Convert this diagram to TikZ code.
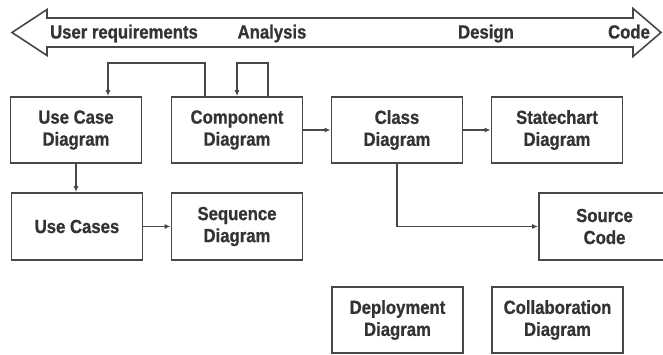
\documentclass[tikz,border=0pt]{standalone}
\usepackage{fontspec}
\setmainfont{Liberation Sans}[FakeStretch=0.88, BoldFeatures={FakeBold=0.8}]
\usetikzlibrary{arrows.meta}
\definecolor{ink}{HTML}{333333}
\definecolor{edge}{HTML}{474747}
\begin{document}
\begin{tikzpicture}[x=1pt,y=-1pt,
  every node/.style={font=\fontsize{19}{22}\selectfont\bfseries, text=ink},
  box/.style={draw=edge, line width=1.8pt, minimum width=131pt, minimum height=66pt, align=center, inner sep=0pt},
  arr/.style={draw=edge, line width=1.3pt, -{Latex[length=6pt,width=5pt]}},
  lbl/.style={inner sep=0pt, anchor=base}]
\useasboundingbox (0,0) rectangle (663,355);
% timeline double arrow
\draw[edge, line width=1.6pt, line join=miter, fill=white]
  (12,32.5) -- (47,9.5) -- (47,18) -- (633,18) -- (633,8.5) -- (661,32.5)
  -- (633,56.5) -- (633,47) -- (47,47) -- (47,55.5) -- cycle;
\node[lbl] (t1) at (124,38.5) {User requirements};
\node[lbl] (t2) at (272,38.5) {Analysis};
\node[lbl] (t3) at (486,38.5) {Design};
\node[lbl] (t4) at (629,38.5) {Code};
% diagram boxes
\node[box] (uc)   at (76,130)    {Use Case\\Diagram};
\node[box] (comp) at (237,130)   {Component\\Diagram};
\node[box] (cls)  at (397,130)   {Class\\Diagram};
\node[box] (st)   at (557,130)   {Statechart\\Diagram};
\node[box, minimum height=67pt] (ucs) at (77,226.5)  {Use Cases};
\node[box, minimum height=67pt] (seq) at (237,226.5) {Sequence\\Diagram};
\node[box, minimum height=67pt] (src) at (604.5,226.5) {Source\\Code};
\node[box] (dep)  at (397.5,320) {Deployment\\Diagram};
\node[box] (col)  at (557.5,320) {Collaboration\\Diagram};
% connectors
\draw[arr] ([xshift=-32pt]comp.north) -- ++(0,-33) -| ([xshift=32pt]uc.north);
\draw[arr] ([xshift=31pt]comp.north) -- ++(0,-33) -| (comp.north);
\draw[arr] (comp.east) -- (cls.west);
\draw[arr] (cls.east) -- (st.west);
\draw[arr] (uc.south) -- (ucs.north -| uc.south);
\draw[arr] (ucs.east) -- (seq.west);
\draw[arr] (cls.south) |- (src.west);
\end{tikzpicture}
\end{document}
